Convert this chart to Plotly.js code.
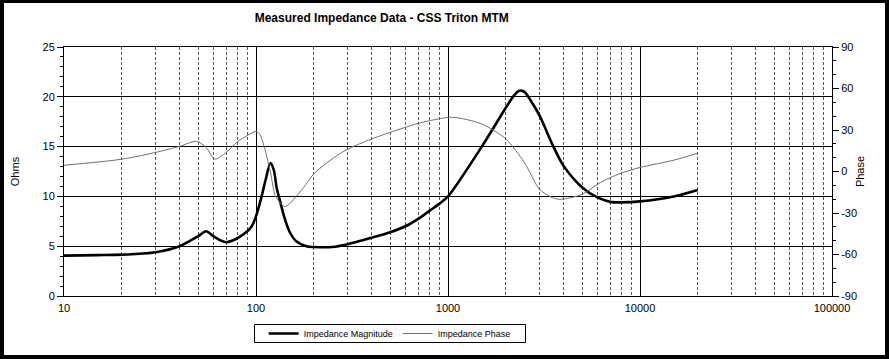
<!DOCTYPE html>
<html>
<head>
<meta charset="utf-8">
<script src="https://cdn.plot.ly/plotly-3.0.1.min.js"></script>
<style>
  html, body { margin: 0; padding: 0; background: #fff; }
  #wrap { position: relative; width: 889px; height: 359px; }
  #chart { width: 889px; height: 359px; }
  #frame { position: absolute; left: 0; top: 0; width: 889px; height: 359px; box-sizing: border-box;
           border-style: solid; border-color: #000; border-width: 3px 4px 4px 4px; pointer-events: none; }
</style>
</head>
<body>
<div id="wrap"><div id="chart"></div><div id="frame"></div></div>
<script>
// Impedance magnitude (Ohms) vs frequency (Hz)
var magFreq = [10, 15, 20, 30, 40, 45, 50, 55, 60, 65, 70, 80, 90, 95, 100, 107, 112, 119, 124, 128, 134, 140, 150, 162, 183, 200, 250, 300, 400, 500, 600, 700, 800, 900, 1000, 1500, 2000, 2200, 2350, 2500, 2700, 3000, 3500, 4000, 5000, 6000, 7000, 8000, 10000, 15000, 20000];
var magOhms = [4.05, 4.1, 4.15, 4.4, 5.0, 5.5, 6.0, 6.5, 6.0, 5.6, 5.4, 5.8, 6.5, 7.0, 8.0, 10.0, 11.6, 13.35, 12.6, 10.9, 9.4, 8.0, 6.4, 5.5, 5.0, 4.92, 4.92, 5.2, 5.85, 6.4, 7.0, 7.75, 8.55, 9.25, 10.0, 15.0, 18.9, 20.1, 20.6, 20.5, 19.6, 18.1, 15.2, 13.05, 10.9, 9.9, 9.45, 9.4, 9.5, 10.0, 10.65];

// Impedance phase (degrees) vs frequency (Hz)
var phFreq = [10, 20, 30, 40, 49, 55, 61, 70, 80, 90, 100, 105, 110, 119, 126, 134, 141, 150, 157, 177, 199, 243, 296, 400, 563, 700, 800, 1050, 1500, 2000, 2500, 3000, 3500, 3830, 5000, 6000, 7000, 8000, 10000, 15000, 20000];
var phDeg = [4.5, 8.9, 13.8, 18.2, 21.8, 17.4, 9.0, 13.8, 21.5, 25.9, 29.0, 26.5, 18.6, -0.7, -17.7, -22.8, -25.4, -23.2, -20.1, -11.5, -2.0, 8.0, 15.7, 23.5, 30.7, 34.8, 36.7, 39.2, 34.3, 23.5, 6.5, -12.9, -18.9, -20.1, -16.5, -9.2, -4.4, -1.2, 2.9, 8.2, 13.3];

var xTickVals = [10, 100, 1000, 10000, 100000];
var xTickText = ['10', '100', '1000', '10000', '100000'];
var phaseTickVals = [-90, -60, -30, 0, 30, 60, 90];
var phaseTickText = ['-90', '-60', '-30', '0', '30', '60', '90'];

var FONT = 'Arial, "Liberation Sans", sans-serif';

var traces = [
  {
    x: magFreq, y: magOhms, name: 'Impedance Magnitude', type: 'scatter', mode: 'lines',
    line: { color: '#000000', width: 2.6, shape: 'spline', smoothing: 0.8 }, yaxis: 'y'
  },
  {
    x: phFreq, y: phDeg, name: 'Impedance Phase', type: 'scatter', mode: 'lines',
    line: { color: '#707070', width: 1, shape: 'spline', smoothing: 0.8 }, yaxis: 'y2'
  }
];

var layout = {
  width: 889, height: 359,
  margin: { l: 64, r: 57, t: 47, b: 63, pad: 0, autoexpand: false },
  paper_bgcolor: '#ffffff', plot_bgcolor: '#ffffff',
  font: { family: FONT, size: 11, color: '#000' },
  title: {
    text: 'Measured Impedance Data - CSS Triton MTM',
    x: 0.4294, xanchor: 'center', xref: 'container',
    y: 0.95, yanchor: 'middle', yref: 'container',
    font: { family: FONT, size: 12, color: '#000', weight: 'bold' }
  },
  xaxis: {
    type: 'log', range: [1, 5],
    tickmode: 'array', tickvals: xTickVals, ticktext: xTickText,
    showgrid: true, gridcolor: '#000', gridwidth: 1,
    showline: true, linecolor: '#000', linewidth: 1, mirror: true,
    ticks: '', zeroline: false, ticklabelstandoff: 2,
    tickfont: { family: FONT, size: 11, color: '#000' },
    minor: { dtick: 'D1', showgrid: true, gridcolor: '#555', gridwidth: 1, griddash: '3px,2px', ticks: '' }
  },
  yaxis: {
    range: [0, 25], dtick: 5, tick0: 0,
    showgrid: true, gridcolor: '#000', gridwidth: 1,
    showline: true, linecolor: '#000', linewidth: 1,
    ticks: 'outside', ticklen: 6, tickcolor: '#000', zeroline: false,
    tickfont: { family: FONT, size: 11, color: '#000' },
    minor: { dtick: 1, ticks: 'outside', ticklen: 3, tickcolor: '#000', showgrid: false },
    title: { text: 'Ohms', font: { family: FONT, size: 11, color: '#000' }, standoff: 20 }
  },
  yaxis2: {
    overlaying: 'y', side: 'right', range: [-90, 90],
    tickmode: 'array', tickvals: phaseTickVals, ticktext: phaseTickText,
    showgrid: false, zeroline: false,
    showline: true, linecolor: '#000', linewidth: 1,
    ticks: 'outside', ticklen: 6, tickcolor: '#000',
    tickfont: { family: FONT, size: 11, color: '#000' },
    minor: { tickmode: 'linear', tick0: -90, dtick: 10, ticks: 'outside', ticklen: 3, tickcolor: '#000', showgrid: false },
    title: { text: 'Phase', font: { family: FONT, size: 11, color: '#000' }, standoff: 0 }
  },
  shapes: [
    { type: 'rect', xref: 'paper', yref: 'paper',
      x0: (254.5 - 64) / 768, x1: (525.5 - 64) / 768,
      y0: (296 - 342.5) / 249, y1: (296 - 324.5) / 249,
      line: { color: '#000', width: 1 }, fillcolor: 'rgba(0,0,0,0)', layer: 'above' }
  ],
  showlegend: true,
  legend: {
    orientation: 'h', x: 0.424, xanchor: 'center', y: (296 - 333.5) / 249, yanchor: 'middle',
    borderwidth: 0, bgcolor: 'rgba(0,0,0,0)',
    font: { family: FONT, size: 9, color: '#000' },
    itemwidth: 30
  }
};

Plotly.newPlot('chart', traces, layout, { staticPlot: true, displayModeBar: false });
</script>
</body>
</html>
